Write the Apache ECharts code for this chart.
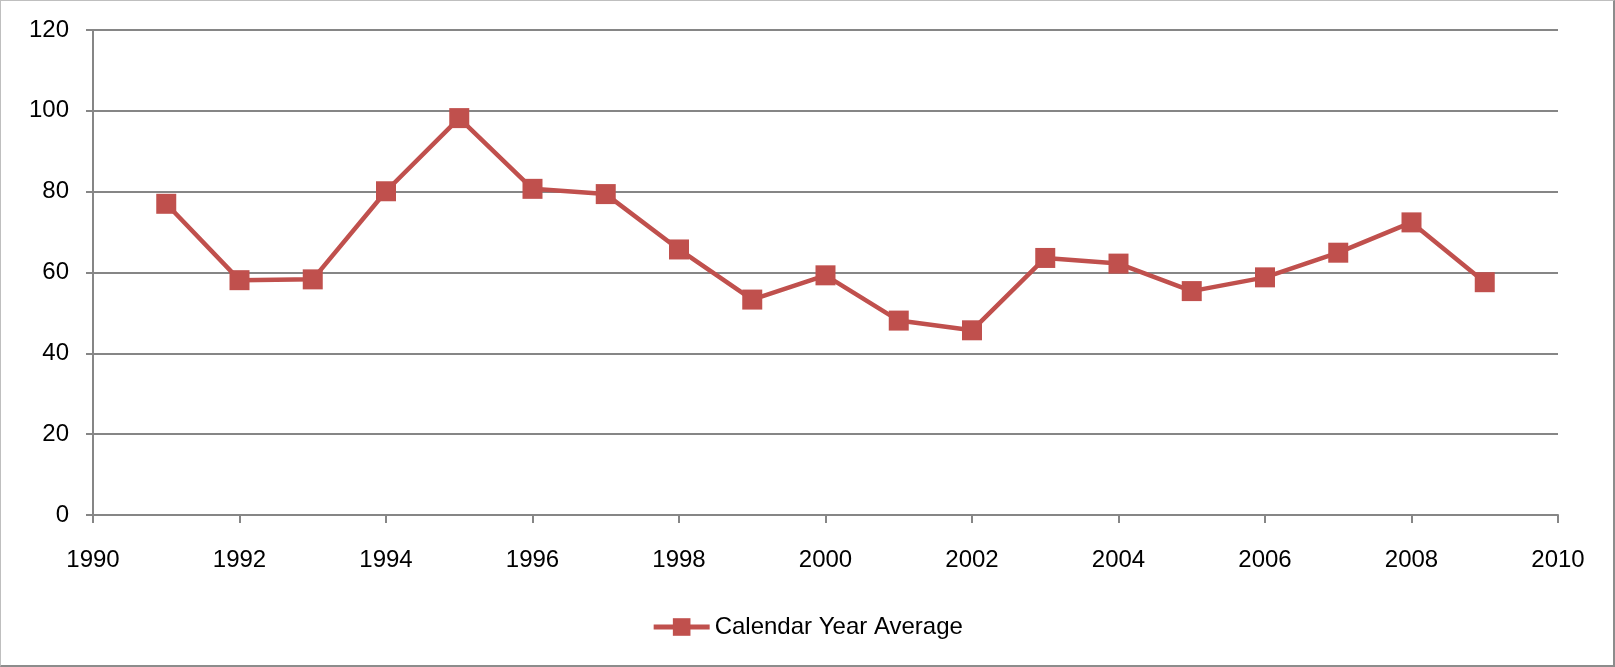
<!DOCTYPE html>
<html>
<head>
<meta charset="utf-8">
<script src="https://cdn.jsdelivr.net/npm/echarts@6/dist/echarts.min.js"></script>
<style>
html,body{margin:0;padding:0;background:#fff;}
#c{width:1615px;height:667px;box-sizing:border-box;border:1px solid #bfbfbf;border-right:2px solid #8c8c8c;border-bottom:2px solid #8c8c8c;}
</style>
</head>
<body>
<div id="c"></div>
<script>
const years = [1991,1992,1993,1994,1995,1996,1997,1998,1999,2000,2001,2002,2003,2004,2005,2006,2007,2008,2009];
const averages = [77.0,58.1,58.3,80.1,98.2,80.7,79.4,65.7,53.3,59.3,48.1,45.7,63.6,62.2,55.4,58.8,64.9,72.4,57.6];
const seriesName = 'Calendar Year Average';

const chart = echarts.init(document.getElementById('c'));
const font = 'Liberation Sans, Arial, sans-serif';
chart.setOption({
  animation: false,
  grid: {left: 92, right: 55, top: 29, bottom: 150},
  legend: {
    data: [seriesName],
    bottom: 21,
    left: 'center',
    itemWidth: 56,
    itemHeight: 22,
    itemGap: 4,
    lineStyle: {width: 5, color: '#C0504D'},
    itemStyle: {color: '#C0504D'},
    textStyle: {fontFamily: font, fontSize: 24, color: '#000'}
  },
  xAxis: {
    type: 'value', min: 1990, max: 2010, interval: 2,
    axisLine: {lineStyle: {color: '#868686', width: 2}},
    axisTick: {show: true, length: 8, lineStyle: {color: '#868686', width: 2}},
    axisLabel: {color: '#000', fontFamily: font, fontSize: 24, margin: 33, formatter: v => String(v)},
    splitLine: {show: false}
  },
  yAxis: {
    type: 'value', min: 0, max: 120, interval: 20,
    axisLine: {show: true, lineStyle: {color: '#868686', width: 2}},
    axisTick: {show: true, length: 7, lineStyle: {color: '#868686', width: 2}},
    axisLabel: {color: '#000', fontFamily: font, fontSize: 24, margin: 24},
    splitLine: {show: true, lineStyle: {color: '#868686', width: 2}}
  },
  series: [{
    name: seriesName,
    type: 'line',
    data: years.map((y, i) => [y, averages[i]]),
    symbol: 'rect',
    symbolSize: 20,
    itemStyle: {color: '#C0504D'},
    lineStyle: {color: '#C0504D', width: 4.5}
  }]
});
</script>
</body>
</html>
